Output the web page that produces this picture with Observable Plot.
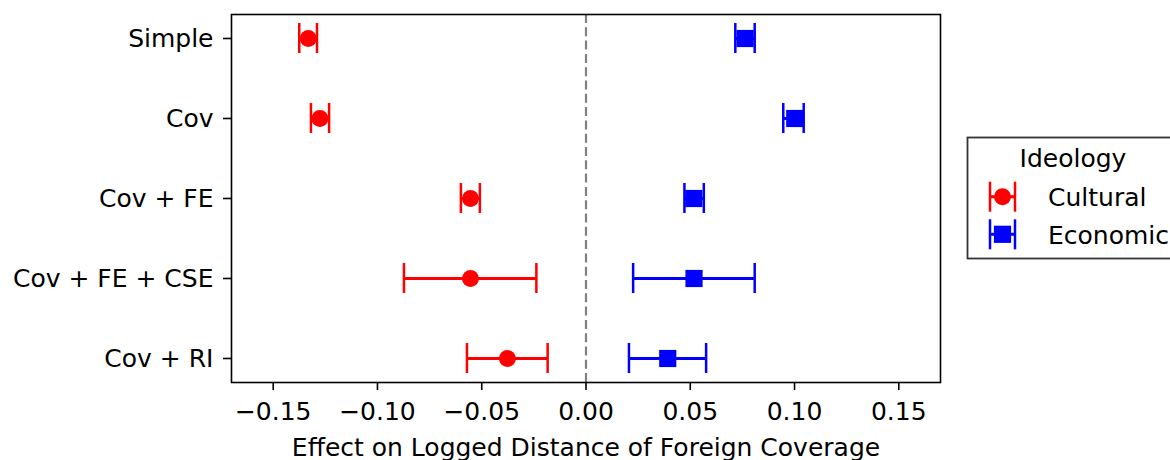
<!DOCTYPE html>
<html><head><meta charset="utf-8">
<script src="https://cdn.jsdelivr.net/npm/d3@7"></script>
<script src="https://cdn.jsdelivr.net/npm/@observablehq/plot@0.6"></script>
<style>
body{margin:0;background:#fff;overflow:hidden}
#wrap{position:relative;width:1170px;height:460px;overflow:hidden;font-family:"DejaVu Sans",sans-serif}
#legend{position:absolute;left:0;top:0}
</style></head><body><div id="wrap"></div>
<script>
const models = ["Simple", "Cov", "Cov + FE", "Cov + FE + CSE", "Cov + RI"];
const ideologies = ["Cultural", "Economic"];
const colors = ["#ff0000", "#0000ff"];
const symbols = ["circle", "square"];
const culturalEst = [-0.1332, -0.1276, -0.0554, -0.0554, -0.0377];
const culturalLo  = [-0.1375, -0.1319, -0.0600, -0.0873, -0.0571];
const culturalHi  = [-0.1290, -0.1232, -0.0509, -0.0238, -0.0184];
const economicEst = [0.0763, 0.1001, 0.0517, 0.0518, 0.0392];
const economicLo  = [0.0716, 0.0946, 0.0472, 0.0226, 0.0206];
const economicHi  = [0.0809, 0.1044, 0.0565, 0.0809, 0.0576];
const xTicks = [-0.15, -0.10, -0.05, 0, 0.05, 0.10, 0.15];
const xLabel = "Effect on Logged Distance of Foreign Coverage";
const legendTitle = "Ideology";

const rows = [];
models.forEach((m, i) => {
  rows.push({model: m, ideology: "Cultural", est: culturalEst[i], lo: culturalLo[i], hi: culturalHi[i]});
  rows.push({model: m, ideology: "Economic", est: economicEst[i], lo: economicLo[i], hi: economicHi[i]});
});
const cult = rows.filter(d => d.ideology === "Cultural");
const econ = rows.filter(d => d.ideology === "Economic");
const fmt = d3.format(".2f");
const FS = 25;

const chart = Plot.plot({
  width: 1170, height: 460,
  marginLeft: 231, marginRight: 230, marginTop: 14, marginBottom: 78,
  style: {fontFamily: "DejaVu Sans", fontSize: FS + "px", color: "#000", background: "#fff", overflow: "visible"},
  x: {domain: [-0.17, 0.17]},
  y: {type: "band", domain: models, paddingInner: 0.625, paddingOuter: 0.1125},
  color: {domain: ideologies, range: colors},
  marks: [
    Plot.ruleX([0], {stroke: "#808080", strokeWidth: 2.2, strokeDasharray: "9,4.3"}),
    Plot.ruleY(rows, {y: "model", x1: "lo", x2: "hi", stroke: "ideology", strokeWidth: 3}),
    Plot.tickX(rows, {y: "model", x: "lo", stroke: "ideology", strokeWidth: 2.5}),
    Plot.tickX(rows, {y: "model", x: "hi", stroke: "ideology", strokeWidth: 2.5}),
    Plot.dot(cult, {y: "model", x: "est", fill: "ideology", symbol: "circle", r: 8.5}),
    Plot.dot(econ, {y: "model", x: "est", fill: "ideology", symbol: "square", r: 9.7}),
    Plot.frame({stroke: "#000", strokeWidth: 1.6}),
    Plot.axisX({ticks: xTicks, tickFormat: fmt, tickSize: 8, tickPadding: 12, label: null, fontSize: FS, strokeWidth: 1.6}),
    Plot.axisY({tickSize: 8, tickPadding: 10, label: null, fontSize: FS, strokeWidth: 1.6}),
    Plot.text([xLabel], {frameAnchor: "bottom", dy: 73, fontSize: FS, fill: "#000"})
  ]
});
const wrap = document.getElementById("wrap");
wrap.appendChild(chart);

// legend
const svg = d3.select(wrap).append("svg").attr("id", "legend")
  .attr("width", 1170).attr("height", 460)
  .style("font-family", "DejaVu Sans").style("font-size", FS + "px");
svg.append("rect").attr("x", 967.5).attr("y", 137.5).attr("width", 212).attr("height", 121)
  .attr("fill", "#fff").attr("stroke", "#333").attr("stroke-width", 1.8);
svg.append("text").attr("x", 1073).attr("y", 167).attr("text-anchor", "middle").text(legendTitle);
ideologies.forEach((name, i) => {
  const cy = 196.7 + 37.6 * i;
  const g = svg.append("g").attr("stroke", colors[i]).attr("fill", colors[i]);
  g.append("line").attr("x1", 990).attr("x2", 1015).attr("y1", cy).attr("y2", cy).attr("stroke-width", 3);
  g.append("line").attr("x1", 990).attr("x2", 990).attr("y1", cy - 15).attr("y2", cy + 15).attr("stroke-width", 2.5);
  g.append("line").attr("x1", 1015).attr("x2", 1015).attr("y1", cy - 15).attr("y2", cy + 15).attr("stroke-width", 2.5);
  if (symbols[i] === "circle") g.append("circle").attr("cx", 1002.5).attr("cy", cy).attr("r", 8.5).attr("stroke", "none");
  else g.append("rect").attr("x", 1002.5 - 8.6).attr("y", cy - 8.6).attr("width", 17.2).attr("height", 17.2).attr("stroke", "none");
  svg.append("text").attr("x", 1048).attr("y", cy + 9.2).attr("fill", "#000").text(name);
});
</script></body></html>
